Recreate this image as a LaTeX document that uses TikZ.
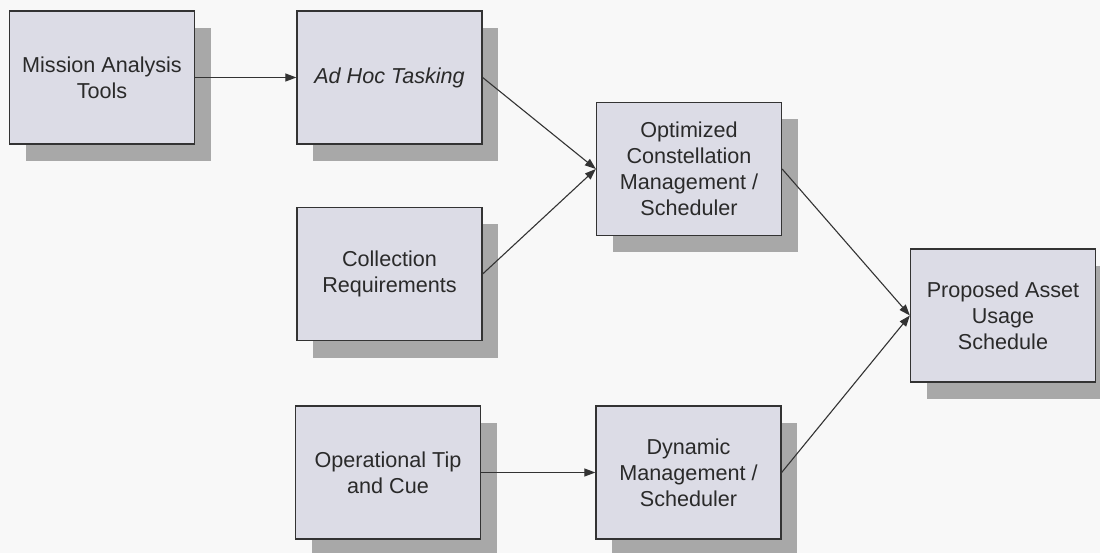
\documentclass[tikz,border=0pt]{standalone}
\usepackage{fontspec}
\setmainfont{Liberation Sans}
\usetikzlibrary{shadows,arrows.meta}
\definecolor{boxfill}{HTML}{DCDCE6}
\definecolor{shadowc}{HTML}{A8A8A8}
\definecolor{bgc}{HTML}{F8F8F8}
\definecolor{linec}{HTML}{333333}
\definecolor{textc}{HTML}{2A2A2A}
\begin{document}
\begin{tikzpicture}[x=1pt,y=-1pt,
  boxtext/.style={font=\fontsize{21.6}{26}\selectfont},
  box/.style={draw=linec, line width=1.3pt, fill=boxfill, minimum width=185pt,
    minimum height=133pt, inner sep=0pt, align=center, text=textc, boxtext,
    drop shadow={shadow xshift=16pt, shadow yshift=-17pt, fill=shadowc, opacity=1}},
  conn/.style={draw=linec, line width=1.1pt, -{Triangle[length=11pt,width=8pt]}}]
\fill[bgc] (0,0) rectangle (1100,553);
\useasboundingbox (0,0) rectangle (1100,553);
\node[box] (mat) at (102,77.5) {Mission Analysis\\Tools};
\node[box, font=\fontsize{21.6}{26}\selectfont\itshape] (aht) at (389.5,77.5) {Ad Hoc Tasking};
\node[box] (cr) at (389.5,274) {Collection\\Requirements};
\node[box] (otc) at (388,472.5) {Operational Tip\\and Cue};
\node[box] (ocm) at (689,169) {Optimized\\Constellation\\Management /\\Scheduler};
\node[box] (dms) at (688.5,472.5) {Dynamic\\Management /\\Scheduler};
\node[box] (pau) at (1003,315.5) {Proposed Asset\\Usage\\Schedule};
\draw[conn] (mat.east) -- (aht.west);
\draw[conn] (aht.east) -- (ocm.west);
\draw[conn] (cr.east) -- (ocm.west);
\draw[conn] (ocm.east) -- (pau.west);
\draw[conn] (dms.east) -- (pau.west);
\draw[conn] (otc.east) -- (dms.west);
\end{tikzpicture}
\end{document}
